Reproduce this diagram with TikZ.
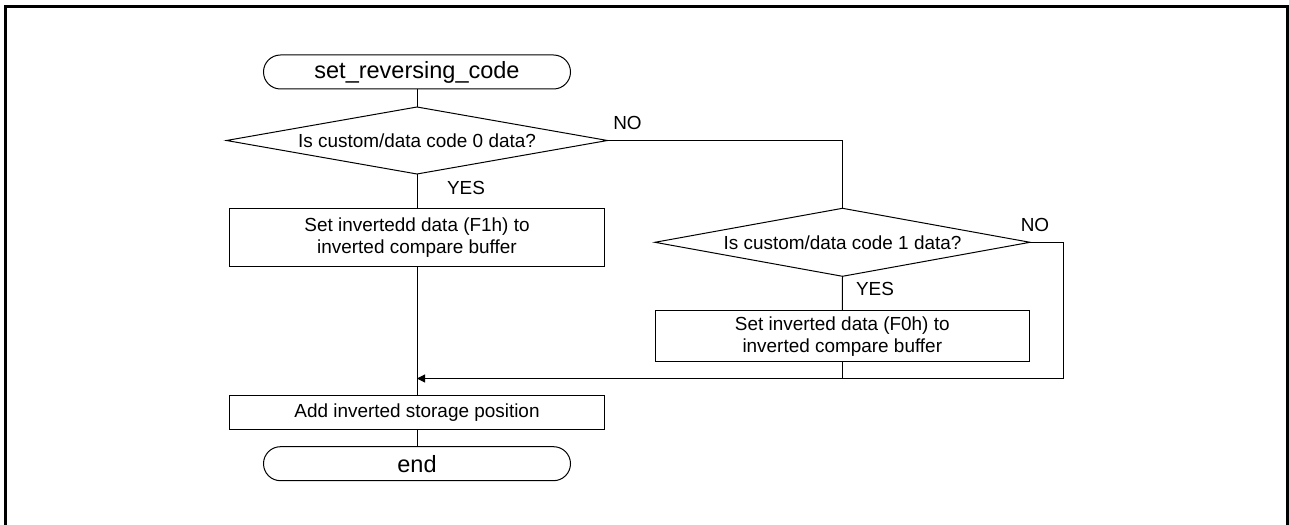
\documentclass[tikz,border=0pt]{standalone}
\usepackage{fontspec}
\setmainfont{Liberation Sans}
\usetikzlibrary{shapes.geometric,arrows.meta}
\begin{document}
\begin{tikzpicture}[x=1bp,y=-1bp,
  every node/.style={inner sep=0pt,outer sep=0pt},
  termbox/.style={draw,line width=1bp,rectangle,rounded corners=17bp,minimum width=307bp,minimum height=34bp,font=\fontsize{23.6}{26}\selectfont},
  procbox/.style={draw,line width=1bp,rectangle,align=center,font=\fontsize{19}{22}\selectfont},
  decbox/.style={draw,line width=1bp,diamond,shape aspect=5.6,font=\fontsize{19}{22}\selectfont},
  lbl/.style={font=\fontsize{19}{22}\selectfont},
  conn/.style={line width=1bp},
  frame/.style={line width=3bp}]
\useasboundingbox (0,0) rectangle (1289,525);
\draw[frame] (5,525) -- (5,6.5) -- (1287.5,6.5) -- (1287.5,525);

\node[termbox] (start) at (417,72) {set\_reversing\_code};
\node[decbox,minimum width=381bp,minimum height=67bp] (d1) at (417,140.5) {Is custom/data code 0 data?};
\node[procbox,minimum width=375bp,minimum height=58bp] (b1) at (417,237.5) {Set invertedd data (F1h) to\\inverted compare buffer};
\node[decbox,minimum width=375bp,minimum height=68bp] (d2) at (842.5,242.3) {Is custom/data code 1 data?};
\node[procbox,minimum width=374bp,minimum height=51bp] (b2) at (842.3,336.2) {Set inverted data (F0h) to\\inverted compare buffer};
\node[procbox,minimum width=375bp,minimum height=34bp] (b3) at (417,412.5) {Add inverted storage position};
\node[termbox] (end) at (417,463.7) {end};

\node[lbl] (yes1) at (466,187.5) {YES};
\node[lbl] (no1) at (627.5,122.5) {NO};
\node[lbl] (yes2) at (875,289) {YES};
\node[lbl] (no2) at (1035,224.5) {NO};

\coordinate (join) at (417,378.5);
\coordinate (rc) at (1063.3,378.5);

\draw[conn] (start.south) -- (d1.north);
\draw[conn] (d1.south) -- (b1.north);
\draw[conn] (d1.east) -| (d2.north);
\draw[conn] (d2.south) -- (b2.north);
\draw[conn,-{Triangle[length=8bp,width=8bp]}] (d2.east) -| (rc) -- (join);
\draw[conn] (b2.south) -- (b2.south |- rc);
\draw[conn] (b1.south) -- (b3.north);
\draw[conn] (b3.south) -- (end.north);
\end{tikzpicture}
\end{document}
